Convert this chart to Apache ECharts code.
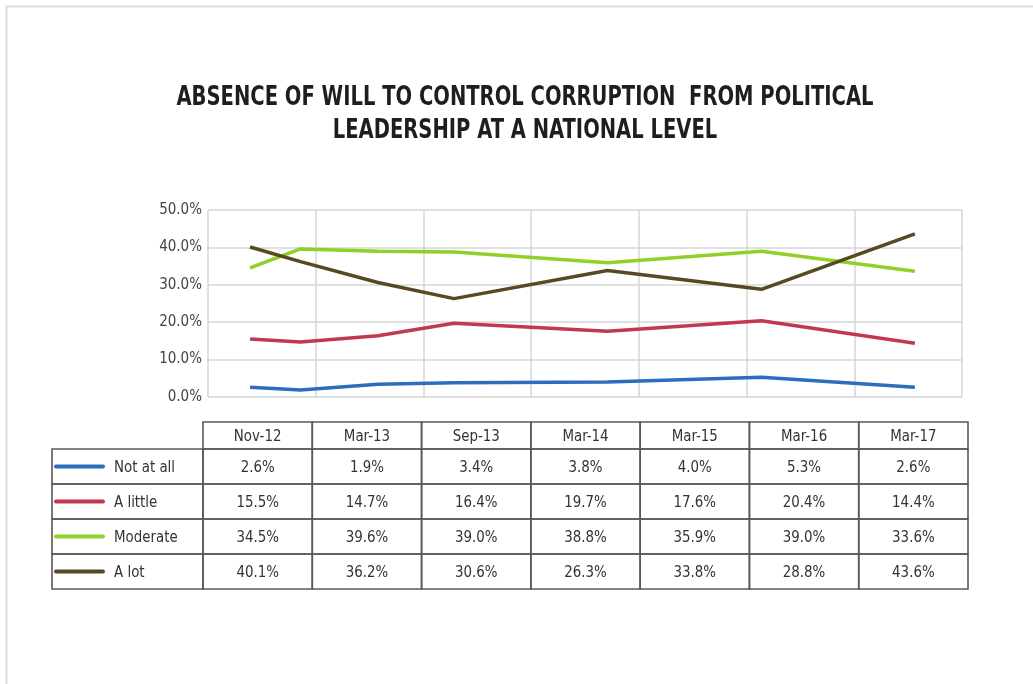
<!DOCTYPE html>
<html>
<head>
<meta charset="utf-8">
<script src="https://cdn.jsdelivr.net/npm/echarts@6/dist/echarts.min.js"></script>
<style>
html,body{margin:0;padding:0;background:#fff;}
#chart{width:1033px;height:684px;}
</style>
</head>
<body>
<div id="chart"></div>
<script>
const categories = ['Nov-12', 'Mar-13', 'Sep-13', 'Mar-14', 'Mar-15', 'Mar-16', 'Mar-17'];
const dates = ['2012-11-01', '2013-03-01', '2013-09-01', '2014-03-01', '2015-03-01', '2016-03-01', '2017-03-01'];
const seriesNames = ['Not at all', 'A little', 'Moderate', 'A lot'];
const notAtAll = [2.6, 1.9, 3.4, 3.8, 4.0, 5.3, 2.6];
const aLittle = [15.5, 14.7, 16.4, 19.7, 17.6, 20.4, 14.4];
const moderate = [34.5, 39.6, 39.0, 38.8, 35.9, 39.0, 33.6];
const aLot = [40.1, 36.2, 30.6, 26.3, 33.8, 28.8, 43.6];
const colors = ['#2c6dbd', '#c4384f', '#92cf2a', '#574a22'];
const titleLines = ['ABSENCE OF WILL TO CONTROL CORRUPTION  FROM POLITICAL', 'LEADERSHIP AT A NATIONAL LEVEL'];

const FONT = '"Liberation Sans Narrow", "DejaVu Sans Condensed", "Roboto Condensed", sans-serif';

function ts(s) {
  const p = s.split('-').map(Number);
  return new Date(p[0], p[1] - 1, p[2]).getTime();
}
const allSeries = [notAtAll, aLittle, moderate, aLot];

const chart = echarts.init(document.getElementById('chart'), null, {renderer: 'canvas'});

// table geometry
const tblLeft = 52, tblLabelRight = 203, tblRight = 968;
const headerTop = 422, headerBottom = 449, rowH = 35;
const colW = (tblRight - tblLabelRight) / categories.length;
const lineColor = '#595959';
const graphics = [];

// outer faint frame
graphics.push({type: 'rect', shape: {x: 6.5, y: 6.5, width: 1100, height: 1000},
  style: {fill: 'none', stroke: '#dcdcdc', lineWidth: 2}, silent: true});

// title
titleLines.forEach((t, i) => {
  graphics.push({type: 'text', x: 525, y: 98 + i * 33, scaleX: 0.805, style: {
    text: t, font: 'bold 27px ' + FONT, fill: '#1e1e1e', align: 'center', verticalAlign: 'middle'}});
});

const cellFont = '16px ' + FONT;
// header cells
categories.forEach((c, j) => {
  const x0 = tblLabelRight + j * colW;
  graphics.push({type: 'rect', shape: {x: x0, y: headerTop, width: colW, height: headerBottom - headerTop},
    style: {fill: 'none', stroke: lineColor, lineWidth: 1.6}});
  graphics.push({type: 'text', x: x0 + colW / 2, y: (headerTop + headerBottom) / 2 + 1, scaleX: 0.93, style: {
    text: c, font: cellFont, fill: '#333', align: 'center', verticalAlign: 'middle'}});
});
// data rows
seriesNames.forEach((name, i) => {
  const y0 = headerBottom + i * rowH;
  graphics.push({type: 'rect', shape: {x: tblLeft, y: y0, width: tblLabelRight - tblLeft, height: rowH},
    style: {fill: 'none', stroke: lineColor, lineWidth: 1.6}});
  graphics.push({type: 'line', shape: {x1: 56, y1: y0 + rowH / 2, x2: 103, y2: y0 + rowH / 2},
    style: {stroke: colors[i], lineWidth: 4, lineCap: 'round'}});
  graphics.push({type: 'text', x: 114, y: y0 + rowH / 2 + 1, scaleX: 0.93, style: {
    text: name, font: cellFont, fill: '#333', align: 'left', verticalAlign: 'middle'}});
  allSeries[i].forEach((v, j) => {
    const x0 = tblLabelRight + j * colW;
    graphics.push({type: 'rect', shape: {x: x0, y: y0, width: colW, height: rowH},
      style: {fill: 'none', stroke: lineColor, lineWidth: 1.6}});
    graphics.push({type: 'text', x: x0 + colW / 2, y: y0 + rowH / 2 + 1, scaleX: 0.93, style: {
      text: v.toFixed(1) + '%', font: cellFont, fill: '#333', align: 'center', verticalAlign: 'middle'}});
  });
});

const option = {
  backgroundColor: '#fff',
  animation: false,
  grid: {left: 208, right: 1033 - 962, top: 210, bottom: 684 - 397, containLabel: false},
  xAxis: [
    {type: 'category', data: categories, boundaryGap: true,
      axisLabel: {show: false}, axisTick: {show: false}, axisLine: {show: false},
      splitLine: {show: true, lineStyle: {color: '#d6d6d6', width: 1.5}}},
    {type: 'time', show: false, min: ts('2012-07-24'), max: ts('2017-06-21')}
  ],
  yAxis: {
    type: 'value', min: 0, max: 50, interval: 10,
    axisLine: {show: false}, axisTick: {show: false},
    axisLabel: {formatter: v => v.toFixed(1) + '%', color: '#444', fontSize: 15, fontFamily: FONT, margin: 6},
    splitLine: {show: true, lineStyle: {color: '#d6d6d6', width: 1.5}}
  },
  series: seriesNames.map((name, i) => ({
    name: name, type: 'line', xAxisIndex: 1,
    data: allSeries[i].map((v, j) => [ts(dates[j]), v]),
    showSymbol: false, symbol: 'none',
    lineStyle: {color: colors[i], width: 3.5},
    itemStyle: {color: colors[i]}
  })),
  graphic: graphics
};
chart.setOption(option);
</script>
</body>
</html>
